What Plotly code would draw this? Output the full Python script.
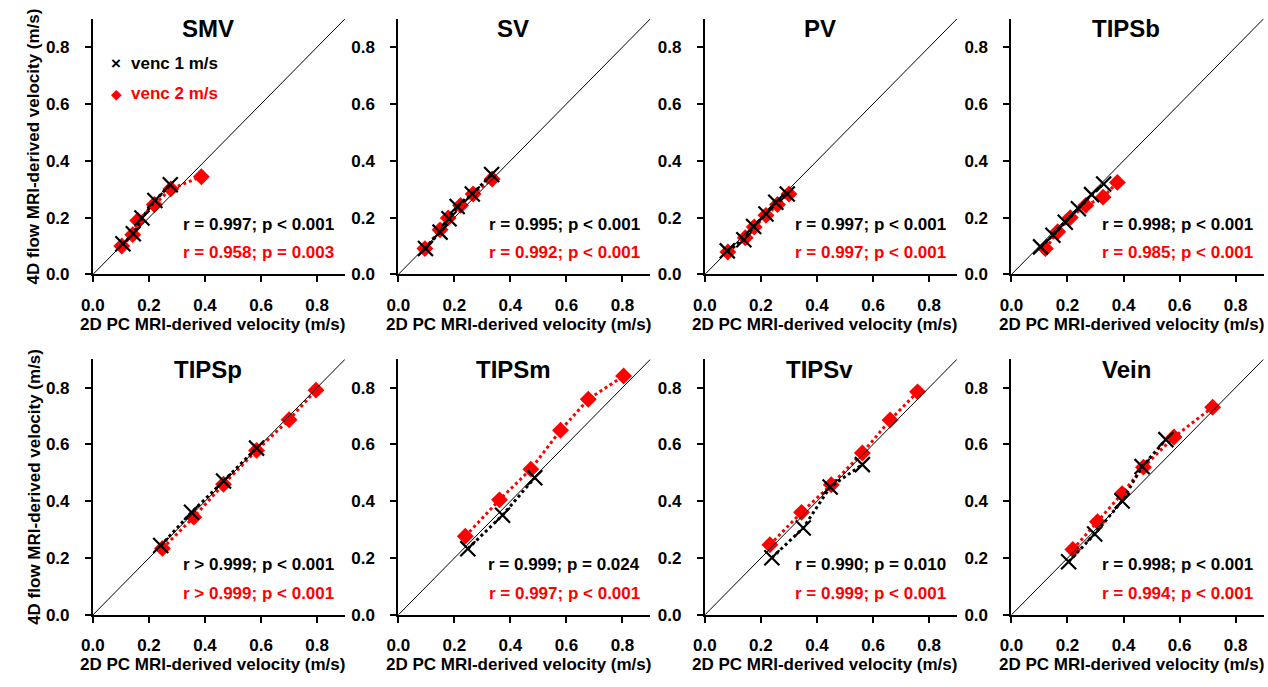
import plotly.graph_objects as go

panels = ["SMV", "SV", "PV", "TIPSb", "TIPSp", "TIPSm", "TIPSv", "Vein"]

v1_x = {
    "SMV": [0.107, 0.144, 0.175, 0.221, 0.276],
    "SV": [0.097, 0.149, 0.181, 0.210, 0.264, 0.333],
    "PV": [0.080, 0.139, 0.174, 0.218, 0.253, 0.294],
    "TIPSb": [0.104, 0.148, 0.192, 0.239, 0.286, 0.329],
    "TIPSp": [0.242, 0.352, 0.466, 0.584],
    "TIPSm": [0.248, 0.372, 0.487],
    "TIPSv": [0.239, 0.351, 0.447, 0.562],
    "Vein": [0.204, 0.297, 0.395, 0.466, 0.551],
}
v1_y = {
    "SMV": [0.108, 0.143, 0.199, 0.260, 0.316],
    "SV": [0.091, 0.149, 0.196, 0.239, 0.283, 0.352],
    "PV": [0.083, 0.122, 0.169, 0.213, 0.254, 0.283],
    "TIPSb": [0.097, 0.138, 0.184, 0.231, 0.281, 0.318],
    "TIPSp": [0.244, 0.361, 0.471, 0.587],
    "TIPSm": [0.233, 0.351, 0.483],
    "TIPSv": [0.201, 0.306, 0.450, 0.529],
    "Vein": [0.187, 0.285, 0.401, 0.522, 0.617],
}
v2_x = {
    "SMV": [0.103, 0.142, 0.160, 0.219, 0.278, 0.387],
    "SV": [0.095, 0.149, 0.178, 0.222, 0.267, 0.335],
    "PV": [0.082, 0.144, 0.176, 0.218, 0.259, 0.300],
    "TIPSb": [0.121, 0.165, 0.210, 0.265, 0.327, 0.378],
    "TIPSp": [0.248, 0.360, 0.466, 0.584, 0.700, 0.796],
    "TIPSm": [0.239, 0.361, 0.473, 0.579, 0.678, 0.804],
    "TIPSv": [0.232, 0.345, 0.451, 0.562, 0.661, 0.759],
    "Vein": [0.219, 0.307, 0.395, 0.471, 0.580, 0.718],
}
v2_y = {
    "SMV": [0.100, 0.140, 0.190, 0.246, 0.301, 0.344],
    "SV": [0.091, 0.157, 0.199, 0.243, 0.283, 0.336],
    "PV": [0.079, 0.129, 0.167, 0.208, 0.246, 0.283],
    "TIPSb": [0.091, 0.150, 0.200, 0.243, 0.272, 0.324],
    "TIPSp": [0.234, 0.344, 0.460, 0.579, 0.687, 0.791],
    "TIPSm": [0.277, 0.405, 0.513, 0.650, 0.759, 0.841],
    "TIPSv": [0.247, 0.361, 0.458, 0.570, 0.686, 0.785],
    "Vein": [0.230, 0.328, 0.427, 0.520, 0.626, 0.731],
}
stats_v1 = {
    "SMV": "r = 0.997; p &lt; 0.001",
    "SV": "r = 0.995; p &lt; 0.001",
    "PV": "r = 0.997; p &lt; 0.001",
    "TIPSb": "r = 0.998; p &lt; 0.001",
    "TIPSp": "r &gt; 0.999; p &lt; 0.001",
    "TIPSm": "r = 0.999; p = 0.024",
    "TIPSv": "r = 0.990; p = 0.010",
    "Vein": "r = 0.998; p &lt; 0.001",
}
stats_v2 = {
    "SMV": "r = 0.958; p = 0.003",
    "SV": "r = 0.992; p &lt; 0.001",
    "PV": "r = 0.997; p &lt; 0.001",
    "TIPSb": "r = 0.985; p &lt; 0.001",
    "TIPSp": "r &gt; 0.999; p &lt; 0.001",
    "TIPSm": "r = 0.997; p &lt; 0.001",
    "TIPSv": "r = 0.999; p &lt; 0.001",
    "Vein": "r = 0.994; p &lt; 0.001",
}
axis_range = [0, 0.9]
tick_vals = [0.0, 0.2, 0.4, 0.6, 0.8]
tick_text = ["0.0", "0.2", "0.4", "0.6", "0.8"]
x_title = "2D PC MRI-derived velocity (m/s)"
y_title = "4D flow MRI-derived velocity (m/s)"
legend_labels = ["venc 1 m/s", "venc 2 m/s"]

W, H = 1268, 687
FONT = "Arial, Liberation Sans, sans-serif"
RED = "#ff0000"

col_x0 = [81.7, 390.0, 699.5, 1009.0]
col_w = 254.6
row_top = [19.0, 364.5]
row_h = 259.5

fig = go.Figure()
annotations = []
shapes = []
layout = {}

for i, name in enumerate(panels):
    r, c = divmod(i, 4)
    k = i + 1
    xa = "x" if k == 1 else f"x{k}"
    ya = "y" if k == 1 else f"y{k}"
    xd = [col_x0[c] / W, (col_x0[c] + col_w) / W]
    yd = [1 - (row_top[r] + row_h) / H, 1 - row_top[r] / H]
    axis_common = dict(
        range=axis_range, tickvals=tick_vals, ticktext=tick_text,
        showline=True, linecolor="black", linewidth=2,
        ticks="outside", ticklen=6, tickwidth=2, tickcolor="black",
        showgrid=False, zeroline=False,
        tickfont=dict(family=FONT, size=17, color="black", weight="bold"),
        fixedrange=True,
    )
    layout["xaxis" if k == 1 else f"xaxis{k}"] = dict(domain=xd, anchor=ya, ticklabelstandoff=8, **axis_common)
    layout["yaxis" if k == 1 else f"yaxis{k}"] = dict(domain=yd, anchor=xa, ticklabelstandoff=12, **axis_common)

    # identity line
    shapes.append(dict(type="line", xref=xa, yref=ya,
                       x0=axis_range[0], y0=axis_range[0], x1=axis_range[1], y1=axis_range[1],
                       line=dict(color="black", width=1)))

    fig.add_trace(go.Scatter(
        x=v2_x[name], y=v2_y[name], xaxis=xa, yaxis=ya, mode="lines+markers",
        line=dict(color=RED, width=3, dash="dot"),
        marker=dict(symbol="diamond", size=13, color=RED),
        showlegend=False, hoverinfo="skip"))
    fig.add_trace(go.Scatter(
        x=v1_x[name], y=v1_y[name], xaxis=xa, yaxis=ya, mode="lines+markers",
        line=dict(color="black", width=3, dash="dot"),
        marker=dict(symbol="x-thin", size=15, line=dict(color="black", width=2.2)),
        showlegend=False, hoverinfo="skip"))

    xdom = xa + " domain"
    ydom = ya + " domain"
    annotations.append(dict(text=f"<b>{name}</b>", xref=xdom, yref=ydom, x=0.455, y=0.96,
                            xanchor="center", yanchor="middle", showarrow=False,
                            font=dict(family=FONT, size=24, color="black")))
    annotations.append(dict(text=f"<b>{stats_v1[name]}</b>", xref=xdom, yref=ydom, x=0.965, y=0.197,
                            xanchor="right", yanchor="middle", showarrow=False,
                            font=dict(family=FONT, size=17, color="black")))
    annotations.append(dict(text=f"<b>{stats_v2[name]}</b>", xref=xdom, yref=ydom, x=0.965, y=0.085,
                            xanchor="right", yanchor="middle", showarrow=False,
                            font=dict(family=FONT, size=17, color=RED)))
    annotations.append(dict(text=f"<b>{x_title}</b>", xref=xdom, yref=ydom, x=0.475, y=-0.195,
                            xanchor="center", yanchor="middle", showarrow=False,
                            font=dict(family=FONT, size=17, color="black")))
    if c == 0:
        annotations.append(dict(text=f"<b>{y_title}</b>", xref="paper", yref="paper",
                                x=22 / W, y=1 - (row_top[r] + row_h / 2) / H,
                                xanchor="center", yanchor="middle", textangle=-90, showarrow=False,
                                font=dict(family=FONT, size=17, color="black")))

# legend in first panel
annotations.append(dict(text="<b>×</b>", xref="x domain", yref="y domain", x=0.092, y=0.823,
                        xanchor="center", yanchor="middle", showarrow=False,
                        font=dict(family=FONT, size=17, color="black")))
annotations.append(dict(text=f"<b>{legend_labels[0]}</b>", xref="x domain", yref="y domain", x=0.145, y=0.823,
                        xanchor="left", yanchor="middle", showarrow=False,
                        font=dict(family=FONT, size=17, color="black")))
annotations.append(dict(text="◆", xref="x domain", yref="y domain", x=0.092, y=0.707,
                        xanchor="center", yanchor="middle", showarrow=False,
                        font=dict(family=FONT, size=14, color=RED)))
annotations.append(dict(text=f"<b>{legend_labels[1]}</b>", xref="x domain", yref="y domain", x=0.145, y=0.707,
                        xanchor="left", yanchor="middle", showarrow=False,
                        font=dict(family=FONT, size=17, color=RED)))

fig.update_layout(
    width=W, height=H, margin=dict(l=0, r=0, t=0, b=0),
    paper_bgcolor="white", plot_bgcolor="white",
    annotations=annotations, shapes=shapes, showlegend=False,
    **layout,
)
fig.write_html(
    "out.html",
    config={"displayModeBar": False},
    post_script="document.body.style.margin='0';document.body.style.overflow='hidden';"
                "document.documentElement.style.overflow='hidden';",
)
